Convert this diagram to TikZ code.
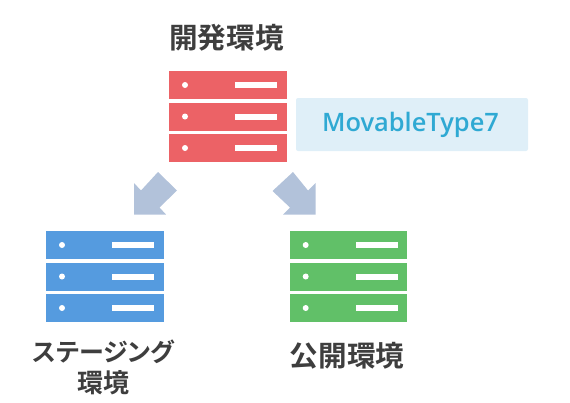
\documentclass[tikz,border=0pt]{standalone}
\usepackage{fontspec}
\setmainfont{Noto Sans CJK JP}[BoldFont={* Bold}]
\newfontfamily\palfont{Noto Sans CJK JP Bold}[RawFeature=+palt]
\newfontfamily\latinfont{Open Sans Semibold}
\definecolor{redc}{HTML}{EC6266}
\definecolor{bluec}{HTML}{559BDF}
\definecolor{greenc}{HTML}{61C068}
\definecolor{arrowc}{HTML}{B2C2DA}
\definecolor{labelbg}{HTML}{DFEFF8}
\definecolor{labeltx}{HTML}{2FA9D3}
\definecolor{titlec}{HTML}{3E3E3E}
\tikzset{
  rowbox/.style={minimum width=117.4pt,minimum height=28pt,inner sep=0pt,outer sep=0pt,anchor=north west},
  ttl/.style={font=\fontsize{28.6}{34}\selectfont\bfseries,text=titlec,align=center,inner sep=0pt},
  ttlsmall/.style={font=\palfont\fontsize{25}{31}\selectfont,text=titlec,align=center,inner sep=0pt}
}
\newcommand{\srv}[4]{%
  \foreach \r/\yy in {a/0,b/31.5,c/63}{
    \node[rowbox,fill=#4] (#1\r) at (#2,#3+\yy) {};
    \fill[white] (#2+15.7,#3+\yy+14) circle (3);
    \fill[white] (#2+65.7,#3+\yy+11) rectangle (#2+107.7,#3+\yy+17);
  }}
\begin{document}
\begin{tikzpicture}[x=1pt,y=-1pt]
\useasboundingbox (0,0) rectangle (570,402);
\srv{dev}{169.3}{71}{redc}
\srv{stg}{46.3}{231}{bluec}
\srv{pub}{290}{231}{greenc}
\node[ttl] (t1) at (226.5,38) {開発環境};
\node[ttlsmall] (t2) at (103.5,367.5) {ステージング\\{\fontsize{26}{31}\selectfont 環境}};
\node[ttl] (t3) at (347,356) {公開環境};
\fill[labelbg,rounded corners=2pt] (296,98) rectangle (528,151);
\node[font=\latinfont\fontsize{25.4}{28}\selectfont,text=labeltx,inner sep=0pt] (lb) at (410.5,125) {MovableType7};
\fill[arrowc] (293,172) -- (272.5,191) -- (290,207.5) -- (283,214.5) -- (315.7,214.5) -- (315.7,183) -- (308,190.5) -- cycle;
\fill[arrowc] (158,172) -- (177,190.5) -- (159.5,207.5) -- (166,214.5) -- (134,214.5) -- (134,183) -- (141,190.5) -- cycle;
\end{tikzpicture}
\end{document}
